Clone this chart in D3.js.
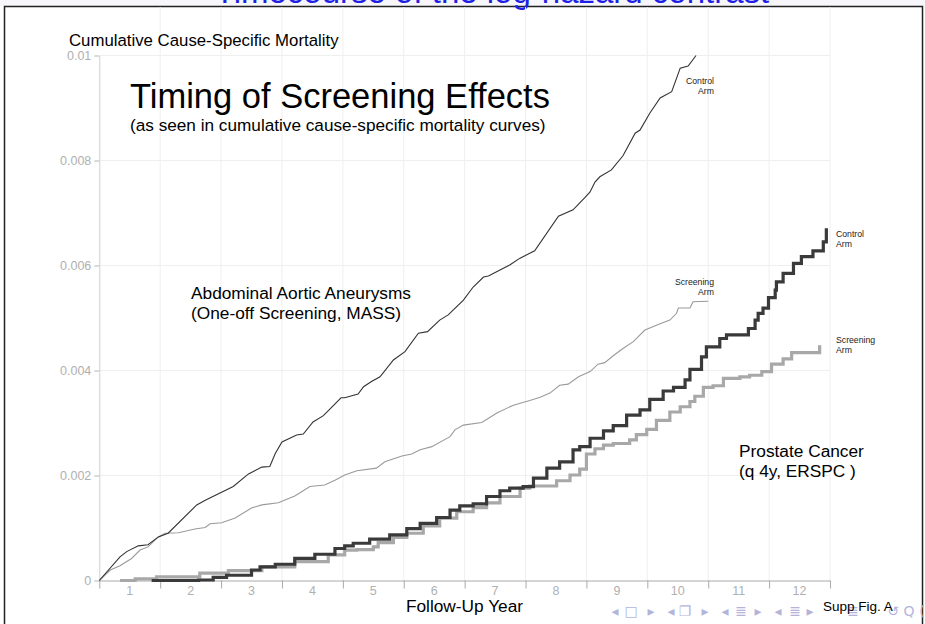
<!DOCTYPE html>
<html>
<head>
<meta charset="utf-8">
<script src="https://cdn.jsdelivr.net/npm/d3@7"></script>
<style>
  body { margin: 0; background: #fff; }
  svg { display: block; font-family: "Liberation Sans", Arial, sans-serif; }
</style>
</head>
<body>
<div id="chart"></div>
<script>
// follow-up year / cumulative mortality
const aaaControl = [
  [0,0],[0.34,0.00045],[0.45,0.00055],[0.64,0.00066],[0.80,0.00068],[0.97,0.00083],[1.13,0.0009],
  [1.60,0.00144],[1.74,0.00153],[2.20,0.00179],[2.45,0.00203],[2.67,0.00216],[2.80,0.00217],
  [2.89,0.00242],[3.00,0.00264],[3.24,0.00277],[3.35,0.00279],[3.51,0.00302],[3.68,0.00314],
  [3.97,0.00348],[4.03,0.00348],[4.25,0.00355],[4.34,0.00369],[4.47,0.00379],[4.61,0.00388],
  [4.83,0.0042],[5.02,0.00436],[5.24,0.00471],[5.39,0.00474],[5.59,0.00496],[5.73,0.00506],
  [5.98,0.00534],[6.14,0.00559],[6.31,0.00578],[6.39,0.0058],[6.74,0.00601],[6.91,0.00614],
  [7.15,0.00628],[7.54,0.00694],[7.78,0.00706],[7.97,0.00729],[8.06,0.0074],[8.14,0.00759],
  [8.22,0.00769],[8.41,0.00782],[8.60,0.00809],[8.80,0.00852],[8.88,0.00858],[9.04,0.0089],
  [9.21,0.00919],[9.40,0.00931],[9.54,0.00976],[9.67,0.0098],[9.80,0.01]
];
const aaaScreen = [
  [0,0],[0.18,0.0002],[0.34,0.00028],[0.53,0.00042],[0.67,0.00058],[0.80,0.00064],[0.97,0.00083],
  [1.08,0.0009],[1.30,0.00091],[1.57,0.00098],[1.74,0.00101],[1.82,0.00108],[2.01,0.0011],
  [2.23,0.00119],[2.50,0.00138],[2.67,0.00144],[2.94,0.00148],[3.21,0.00161],[3.46,0.00179],
  [3.70,0.00182],[3.87,0.00191],[4.03,0.00201],[4.23,0.00209],[4.55,0.00214],[4.69,0.00226],
  [4.97,0.00237],[5.13,0.00241],[5.27,0.00249],[5.46,0.00255],[5.76,0.00274],[5.84,0.00287],
  [5.98,0.00296],[6.28,0.00301],[6.53,0.00319],[6.80,0.00334],[7.07,0.00343],[7.24,0.00349],
  [7.40,0.00357],[7.56,0.00372],[7.70,0.00374],[7.87,0.00388],[8.06,0.00398],[8.19,0.00412],
  [8.30,0.00415],[8.44,0.00428],[8.60,0.00442],[8.77,0.00455],[8.96,0.00477],[9.21,0.00489],
  [9.37,0.00496],[9.48,0.00509],[9.51,0.00519],[9.70,0.00519],[9.75,0.00531],[10.0,0.00532]
];
const prostateControl = [
  [0.86,0],[1.63,0.00001],[1.87,0.00006],[2.09,0.0001],[2.50,0.0002],[2.64,0.00026],[2.89,0.00031],
  [3.21,0.00042],[3.54,0.0005],[3.87,0.00061],[4.03,0.00066],[4.17,0.00071],[4.44,0.00079],
  [4.77,0.00087],[5.05,0.00099],[5.27,0.00109],[5.54,0.0012],[5.76,0.00134],[5.92,0.00142],
  [6.14,0.00146],[6.36,0.0016],[6.58,0.00171],[6.74,0.00176],[6.96,0.00179],[7.13,0.00195],
  [7.35,0.00214],[7.56,0.00226],[7.78,0.00249],[7.89,0.00255],[8.06,0.00271],[8.28,0.00285],
  [8.44,0.00295],[8.66,0.00315],[8.88,0.00325],[9.04,0.00345],[9.26,0.00361],[9.43,0.00368],
  [9.62,0.00382],[9.70,0.00402],[9.89,0.00426],[9.97,0.00445],[10.19,0.00461],[10.30,0.00468],
  [10.52,0.00468],[10.66,0.0048],[10.77,0.00496],[10.82,0.00509],[10.90,0.00519],[10.99,0.00539],
  [11.10,0.00553],[11.12,0.00569],[11.23,0.00585],[11.40,0.00604],[11.53,0.00617],[11.72,0.00628],
  [11.89,0.00645],[11.94,0.00671]
];
const prostateScreen = [
  [0.34,0],[0.59,0.00003],[0.94,0.00007],[1.65,0.00014],[2.12,0.00019],[2.67,0.00026],[3.21,0.00036],
  [3.76,0.00049],[4.03,0.00058],[4.23,0.00059],[4.50,0.00064],[4.58,0.00072],[4.83,0.00082],
  [5.05,0.0009],[5.32,0.00104],[5.59,0.00119],[5.87,0.00131],[6.14,0.00139],[6.36,0.00148],
  [6.58,0.0016],[6.91,0.00176],[7.07,0.0018],[7.35,0.0018],[7.51,0.0019],[7.73,0.00201],
  [7.89,0.00212],[8.00,0.00241],[8.14,0.00251],[8.28,0.00258],[8.44,0.00261],[8.71,0.00268],
  [8.82,0.00278],[8.99,0.00288],[9.15,0.00305],[9.37,0.00321],[9.54,0.00331],[9.70,0.00341],
  [9.78,0.00351],[9.92,0.00368],[10.08,0.00371],[10.25,0.00385],[10.52,0.00388],[10.68,0.00391],
  [10.88,0.00398],[11.04,0.00412],[11.23,0.00422],[11.37,0.00434],[11.83,0.00435],[11.83,0.00448]
];
const yearLabels = [1,2,3,4,5,6,7,8,9,10,11,12];
const yTicks = [0, 0.002, 0.004, 0.006, 0.008, 0.01];
const navSymbols = ["◂","□","▸","◂","❐","▸","◂","≣","▸","◂","≣","▸","≣","↺","Q","("];

const width = 925, height = 624;
const font = "'Liberation Sans', Arial, sans-serif";

const svg = d3.select("#chart").append("svg")
  .attr("width", width)
  .attr("height", height)
  .attr("viewBox", [0, 0, width, height]);

const x = d3.scaleLinear().domain([0, 12]).range([99.3, 830]);
const y = d3.scaleLinear().domain([0, 0.01]).range([580.5, 55.5]);

// slide frame + cut-off frame title
svg.append("rect").attr("x", 0).attr("y", 0).attr("width", width).attr("height", 6).attr("fill", "#f6f6fb");
svg.append("path")
  .attr("d", "M4.5,624V6.5H922.5V624")
  .attr("fill", "none").attr("stroke", "#222").attr("stroke-width", 1.5);
svg.append("text")
  .attr("x", 492).attr("y", 2.5)
  .attr("text-anchor", "middle")
  .attr("fill", "#1f1fe6")
  .style("font-size", "33px")
  .text("Timecourse of the log-hazard contrast");

// grid
svg.append("g").selectAll("line")
  .data(yearLabels)
  .join("line")
  .attr("x1", d => x(d)).attr("x2", d => x(d))
  .attr("y1", 7).attr("y2", y(0))
  .attr("stroke", "#efefef");
svg.append("g").selectAll("line")
  .data(yTicks.slice(1))
  .join("line")
  .attr("x1", x(0)).attr("x2", x(12))
  .attr("y1", d => y(d)).attr("y2", d => y(d))
  .attr("stroke", "#efefef");

// y axis
const yAxis = svg.append("g")
  .attr("transform", `translate(${x(0)},0)`)
  .call(d3.axisLeft(y).tickValues(yTicks).tickSize(5).tickSizeOuter(0).tickPadding(3).tickFormat(d => String(d)));
yAxis.select(".domain").attr("stroke", "#cfcfcf");
yAxis.selectAll(".tick line").attr("stroke", "#b5b5b5");
yAxis.selectAll("text").attr("fill", "#b0b0b0").style("font-size", "12.5px").style("font-family", font);

// x axis
const xAxis = svg.append("g")
  .attr("transform", `translate(0,${y(0)})`)
  .call(d3.axisBottom(x).tickValues(d3.range(0, 13)).tickSize(8).tickSizeOuter(0).tickFormat(""));
xAxis.select(".domain").attr("stroke", "#aaaaaa");
xAxis.selectAll(".tick line").attr("stroke", "#aaaaaa");
svg.append("g").selectAll("text")
  .data(yearLabels)
  .join("text")
  .attr("x", d => x(d - 0.5))
  .attr("y", 595)
  .attr("text-anchor", "middle")
  .attr("fill", "#b0b0b0")
  .style("font-size", "12.5px")
  .text(d => d);

// curves
const line = d3.line().x(d => x(d[0])).y(d => y(d[1]));
const stepLine = d3.line().x(d => x(d[0])).y(d => y(d[1])).curve(d3.curveStepAfter);

svg.append("path").datum(aaaScreen).attr("d", line)
  .attr("fill", "none").attr("stroke", "#9a9a9a").attr("stroke-width", 1.1);
svg.append("path").datum(aaaControl).attr("d", line)
  .attr("fill", "none").attr("stroke", "#333").attr("stroke-width", 1.1);
svg.append("path").datum(prostateScreen).attr("d", stepLine)
  .attr("fill", "none").attr("stroke", "#a8a8a8").attr("stroke-width", 3.2);
svg.append("path").datum(prostateControl).attr("d", stepLine)
  .attr("fill", "none").attr("stroke", "#3a3a3a").attr("stroke-width", 3.2);

// texts
const txt = (tx, ty, s, size, anchor, fill) => svg.append("text")
  .attr("x", tx).attr("y", ty)
  .attr("text-anchor", anchor || "start")
  .attr("fill", fill || "#000")
  .style("font-size", size + "px")
  .text(s);

txt(69, 46, "Cumulative Cause-Specific Mortality", 16.8);
txt(130, 108, "Timing of Screening Effects", 34.5);
txt(130, 131, "(as seen in cumulative cause-specific mortality curves)", 17.2);
txt(191, 299, "Abdominal Aortic Aneurysms", 17.3);
txt(191, 319, "(One-off Screening, MASS)", 17.3);
txt(739, 457, "Prostate Cancer", 17.3);
txt(739, 477, "(q 4y, ERSPC )", 17.3);

txt(714, 84, "Control", 8.7, "end", "#222");
txt(714, 94, "Arm", 8.7, "end", "#222");
txt(714, 285, "Screening", 8.7, "end", "#222");
txt(714, 295, "Arm", 8.7, "end", "#222");
txt(836, 237, "Control", 8.7, "start", "#222");
txt(836, 247, "Arm", 8.7, "start", "#222");
txt(836, 343, "Screening", 8.7, "start", "#222");
txt(836, 353, "Arm", 8.7, "start", "#222");

txt(464.5, 612, "Follow-Up Year", 17.3, "middle");

// beamer navigation symbols
const navPos = [615, 631, 651, 671, 685, 705, 725, 741, 758, 778, 795, 810, 853, 893, 909, 922];
svg.append("g").selectAll("text")
  .data(navSymbols)
  .join("text")
  .attr("x", (d, i) => navPos[i])
  .attr("y", 616)
  .attr("text-anchor", "middle")
  .attr("fill", "#b4b4db")
  .style("font-family", "'DejaVu Sans', sans-serif")
  .style("font-size", "14px")
  .text(d => d);

txt(823, 611, "Supp Fig. A", 13.5);
</script>
</body>
</html>
